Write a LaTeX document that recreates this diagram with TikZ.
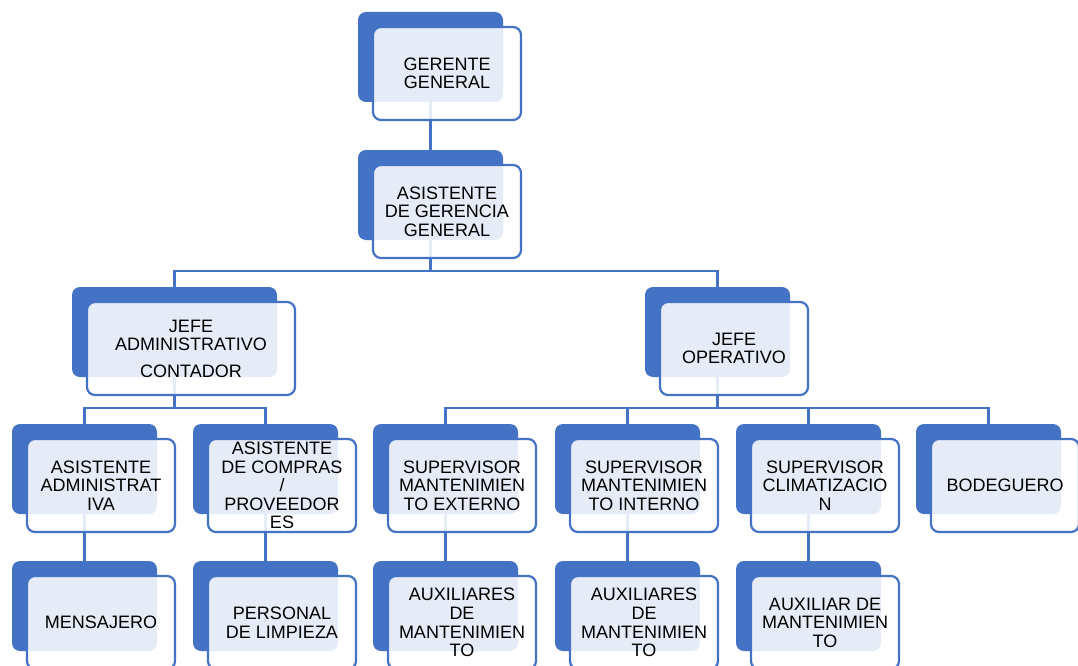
\documentclass[tikz,border=0pt]{standalone}
\usepackage{fontspec}
\setmainfont{Liberation Sans}
\usetikzlibrary{calc}
\pgfdeclarelayer{bg}
\pgfsetlayers{bg,main}
\definecolor{obl}{HTML}{4472C4}
\newcommand\obox[5]{%
  \node[backbox=#4pt] (#1) at (#2,#3) {};
  \node[frontbox=#4pt+3pt] (#1f) at ($(#1.north west)+(15,15)$) {#5};
}
\begin{document}
\begin{tikzpicture}[x=1pt,y=-1pt,
  backbox/.style={fill=obl, rounded corners=8pt, minimum width=#1, minimum height=90pt,
    anchor=north west, inner sep=0pt, outer sep=0pt},
  frontbox/.style={draw=obl, line width=2.2pt, fill=white, fill opacity=0.87, text opacity=1,
    rounded corners=8pt, minimum width=#1, minimum height=93pt, anchor=north west,
    inner sep=2pt, outer sep=0pt, align=center, text=black,
    font=\fontsize{18}{18.6}\selectfont},
  conn/.style={draw=obl, line width=2.5pt}]
\useasboundingbox (0,0) rectangle (1078,666);
\clip (0,0) rectangle (1078,666);
\obox{gg}{358}{12}{145}{GERENTE\\GENERAL}
\obox{ag}{358}{150}{145}{ASISTENTE\\DE GERENCIA\\GENERAL}
\obox{ja}{72}{287}{205}{JEFE\\ADMINISTRATIVO\\[8pt]CONTADOR}
\obox{jo}{645}{287}{145}{JEFE\\OPERATIVO}
\obox{aa}{12}{424}{145}{ASISTENTE\\ADMINISTRAT\\IVA}
\obox{ac}{193}{424}{145}{ASISTENTE\\DE COMPRAS\\/\\PROVEEDOR\\ES}
\obox{se}{373}{424}{145}{SUPERVISOR\\MANTENIMIEN\\TO EXTERNO}
\obox{si}{555}{424}{145}{SUPERVISOR\\MANTENIMIEN\\TO INTERNO}
\obox{sc}{736}{424}{145}{SUPERVISOR\\CLIMATIZACIO\\N}
\obox{bo}{916}{424}{145}{BODEGUERO}
\obox{me}{12}{561}{145}{MENSAJERO}
\obox{pl}{193}{561}{145}{PERSONAL\\DE LIMPIEZA}
\obox{xa}{373}{561}{145}{AUXILIARES\\DE\\MANTENIMIEN\\TO}
\obox{xb}{555}{561}{145}{AUXILIARES\\DE\\MANTENIMIEN\\TO}
\obox{xc}{736}{561}{145}{AUXILIAR DE\\MANTENIMIEN\\TO}
\coordinate (b1) at (0,271);
\coordinate (b2) at (0,408);
\begin{pgfonlayer}{bg}
\fill[white] (0,0) rectangle (1078,666);
\draw[conn] (gg.south) -- (ag.north);
\draw[conn] (ag.south) -- (ag.south |- b1);
\draw[conn] (ja.north) -- (ja.north |- b1) -- (jo.north |- b1) -- (jo.north);
\draw[conn] (ja.south) -- (ja.south |- b2);
\draw[conn] (aa.north) -- (aa.north |- b2) -- (ac.north |- b2) -- (ac.north);
\draw[conn] (jo.south) -- (jo.south |- b2);
\draw[conn] (se.north) -- (se.north |- b2) -- (bo.north |- b2) -- (bo.north);
\draw[conn] (si.north) -- (si.north |- b2);
\draw[conn] (sc.north) -- (sc.north |- b2);
\draw[conn] (aa.south) -- (me.north);
\draw[conn] (ac.south) -- (pl.north);
\draw[conn] (se.south) -- (xa.north);
\draw[conn] (si.south) -- (xb.north);
\draw[conn] (sc.south) -- (xc.north);
\end{pgfonlayer}
\end{tikzpicture}
\end{document}
